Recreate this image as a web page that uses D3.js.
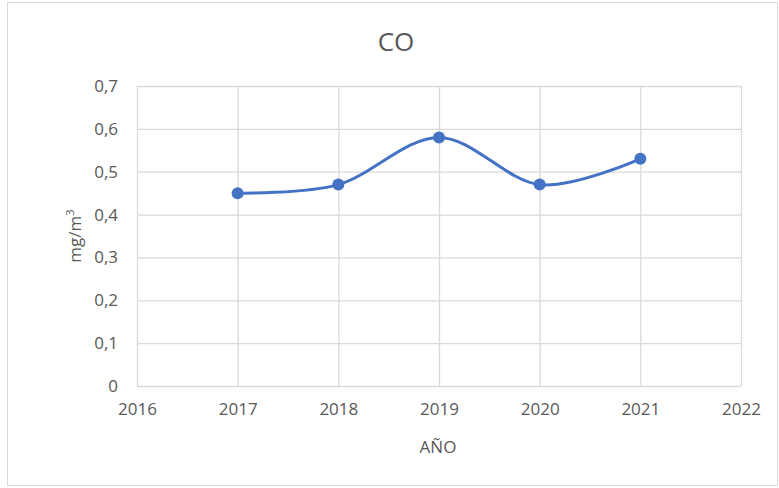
<!DOCTYPE html>
<html>
<head>
<meta charset="utf-8">
<script src="https://cdn.jsdelivr.net/npm/d3@7"></script>
<style>
  body { margin: 0; background: #fff; }
  svg text { font-family: "Open Sans", "Noto Sans", sans-serif; fill: #595959; }
</style>
</head>
<body>
<svg id="chart" width="779" height="488"></svg>
<script>
// chart data
const years = [2017, 2018, 2019, 2020, 2021];
const coValues = [0.45, 0.47, 0.58, 0.47, 0.53];
const xTicks = [2016, 2017, 2018, 2019, 2020, 2021, 2022];
const yTicks = [0, 0.1, 0.2, 0.3, 0.4, 0.5, 0.6, 0.7];

const svg = d3.select("#chart");
const margin = { top: 86, right: 38, bottom: 102, left: 137 };
const width = 779 - margin.left - margin.right;
const height = 488 - margin.top - margin.bottom;

// outer chart border
svg.append("rect")
    .attr("x", 7.5).attr("y", 2.5)
    .attr("width", 770).attr("height", 483)
    .attr("fill", "none")
    .attr("stroke", "#d9d9d9")
    .attr("stroke-width", 1);

svg.append("text")
    .attr("x", 396).attr("y", 51)
    .attr("text-anchor", "middle")
    .style("font-size", "26px")
    .text("CO");

const g = svg.append("g")
    .attr("transform", "translate(" + margin.left + "," + margin.top + ")");

const x = d3.scaleLinear().domain([2016, 2022]).range([0, width]);
const y = d3.scaleLinear().domain([0, 0.7]).range([height, 0]);
const fmt = d => d === 0 ? "0" : d3.format(".1f")(d).replace(".", ",");

// horizontal grid + y labels
g.append("g")
    .call(d3.axisLeft(y).tickValues(yTicks).tickSize(-width).tickFormat(fmt).tickPadding(19))
    .call(a => a.select(".domain").remove())
    .call(a => a.selectAll("line").attr("stroke", "#d9d9d9").attr("stroke-width", 1.3))
    .call(a => a.selectAll("text").style("font-size", "17px").attr("fill", "#595959"));

// vertical grid + x labels
g.append("g")
    .attr("transform", "translate(0," + height + ")")
    .call(d3.axisBottom(x).tickValues(xTicks).tickSize(-height).tickFormat(d3.format("d")).tickPadding(17))
    .call(a => a.select(".domain").remove())
    .call(a => a.selectAll("line").attr("stroke", "#d9d9d9").attr("stroke-width", 1.3))
    .call(a => a.selectAll("text").style("font-size", "17px").attr("fill", "#595959"));

// axis titles
svg.append("text")
    .attr("x", 438).attr("y", 453)
    .attr("text-anchor", "middle")
    .style("font-size", "17px")
    .text("AÑO");

const yt = svg.append("text")
    .attr("transform", "translate(81,236) rotate(-90)")
    .attr("text-anchor", "middle")
    .style("font-size", "17px");
yt.append("tspan").text("mg/m");
yt.append("tspan").attr("dy", "-7").style("font-size", "11px").text("3");

const data = years.map((yr, i) => ({ year: yr, value: coValues[i] }));

const line = d3.line()
    .x(d => x(d.year))
    .y(d => y(d.value))
    .curve(d3.curveCardinal.tension(0));

g.append("path")
    .datum(data)
    .attr("fill", "none")
    .attr("stroke", "#4472c4")
    .attr("stroke-width", 3)
    .attr("d", line);

g.selectAll("circle")
    .data(data)
    .enter().append("circle")
    .attr("cx", d => x(d.year))
    .attr("cy", d => y(d.value))
    .attr("r", 6)
    .attr("fill", "#4472c4");
</script>
</body>
</html>
